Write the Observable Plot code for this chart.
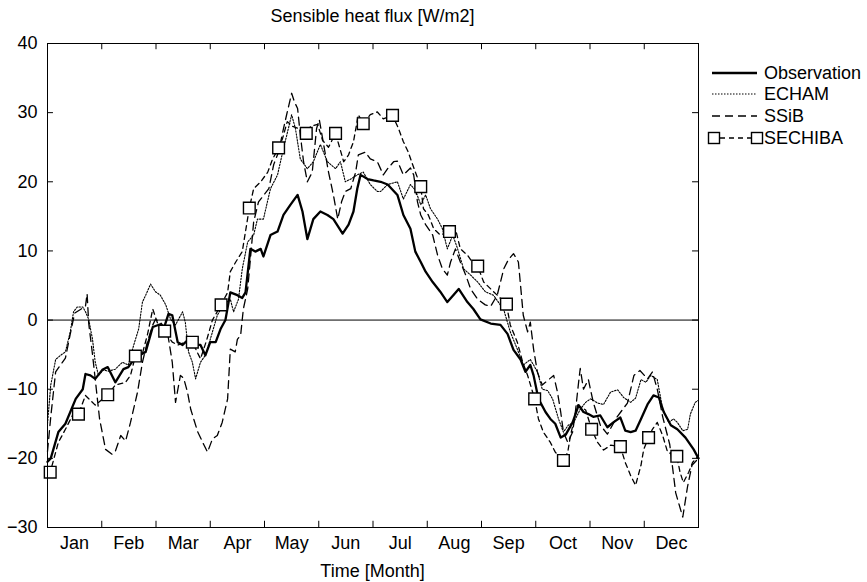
<!DOCTYPE html>
<html>
<head>
<meta charset="utf-8">
<script src="https://cdn.jsdelivr.net/npm/d3@7"></script>
<script src="https://cdn.jsdelivr.net/npm/@observablehq/plot@0.6"></script>
<style>
  html, body { margin: 0; padding: 0; background: #fff; }
  #chart svg { display: block; }
</style>
</head>
<body>
<div id="chart"></div>
<script>
const titleText = "Sensible heat flux [W/m2]";
const xLabel = "Time [Month]";
const monthNames = ["Jan","Feb","Mar","Apr","May","Jun","Jul","Aug","Sep","Oct","Nov","Dec"];
const yTicks = [-30, -20, -10, 0, 10, 20, 30, 40];
const seriesNames = ["Observation", "ECHAM", "SSiB", "SECHIBA"];

// [time in months since 1 Jan, W/m2]
const observation = [
 [0,-20.5],[0.06,-20],[0.2,-16.2],[0.33,-15],[0.52,-11.4],[0.65,-10],[0.7,-7.8],[0.79,-8],[0.88,-8.5],
 [1.01,-7.2],[1.11,-6.8],[1.25,-9],[1.4,-7.1],[1.49,-6.8],[1.62,-5.4],[1.81,-4.6],[1.94,-1],[2.08,-0.6],
 [2.14,-1.3],[2.23,0.9],[2.3,0.7],[2.4,-3.2],[2.49,-3.6],[2.6,-2.8],[2.69,-3.6],[2.82,-3.6],[2.91,-5.1],
 [3.0,-3.2],[3.1,-3.2],[3.19,-1.3],[3.28,0],[3.37,4],[3.5,3.6],[3.59,3.2],[3.65,4],[3.74,10.3],[3.83,9.9],
 [3.93,10.3],[3.98,9.2],[4.11,12.3],[4.24,12.8],[4.35,15.2],[4.48,16.7],[4.61,18.1],[4.7,15.7],[4.79,11.7],
 [4.9,14.6],[5.03,15.7],[5.16,15.2],[5.27,14.6],[5.44,12.5],[5.55,13.8],[5.64,15.7],[5.71,19],[5.77,21],
 [5.9,20.4],[6.01,20.2],[6.14,20],[6.27,19.6],[6.45,18.1],[6.56,15.2],[6.69,13.2],[6.78,9.9],[6.88,8.4],
 [6.97,7],[7.1,5.5],[7.24,4.1],[7.37,2.6],[7.48,3.6],[7.58,4.5],[7.74,2.6],[7.85,1.6],[7.98,0.1],
 [8.17,-0.5],[8.35,-0.7],[8.48,-2],[8.59,-4.3],[8.72,-5.7],[8.81,-7.5],[8.9,-6.5],[8.96,-8],[9.05,-11.4],
 [9.18,-13.3],[9.27,-14.3],[9.36,-15],[9.46,-17],[9.55,-16.6],[9.68,-14.8],[9.79,-12.3],[9.88,-13.3],
 [9.97,-13.6],[10.06,-14],[10.19,-13.8],[10.32,-15.5],[10.43,-14.8],[10.56,-14.1],[10.65,-16],[10.75,-16.2],
 [10.84,-16],[10.94,-14.3],[11.06,-12.2],[11.17,-10.9],[11.27,-11.2],[11.36,-13.3],[11.49,-15.2],
 [11.61,-15.8],[11.76,-17],[11.91,-18.7],[12,-20]
];

const echam = [
 [0,-15],[0.06,-9.4],[0.15,-5.7],[0.24,-5.1],[0.33,-4.6],[0.42,-1.7],[0.48,1.2],[0.55,1.9],[0.65,1.9],
 [0.7,1.2],[0.76,0.1],[0.83,-2.8],[0.88,-6.1],[0.94,-8],[1.03,-7.2],[1.12,-7.4],[1.25,-7.1],[1.38,-6.1],
 [1.49,-6.5],[1.59,-3.6],[1.68,-1.3],[1.75,2.6],[1.81,3.6],[1.9,5.2],[1.99,4.1],[2.08,3.6],[2.18,2.2],
 [2.27,0.1],[2.36,-0.7],[2.49,1.2],[2.54,-0.3],[2.6,-4.6],[2.67,-6.1],[2.73,-8.5],[2.82,-6.1],[2.91,-5.1],
 [3.0,-2.8],[3.13,0.7],[3.24,2.2],[3.37,3],[3.43,1.2],[3.52,3],[3.59,7.4],[3.69,11.3],[3.8,12.3],
 [3.87,14.6],[3.98,14.6],[4.11,19],[4.24,21],[4.35,24.8],[4.44,27.7],[4.5,29.7],[4.57,27.7],[4.66,23.3],
 [4.79,21.9],[4.9,22.9],[5.03,25.4],[5.16,22.9],[5.31,21.9],[5.4,22.9],[5.49,20],[5.59,20.4],[5.71,21],
 [5.82,21.4],[5.95,19.6],[6.08,18.6],[6.14,18.6],[6.27,19.6],[6.45,20],[6.56,17.5],[6.69,19.6],[6.78,18.8],
 [6.88,16.7],[6.97,18.1],[7.06,16.1],[7.19,14.6],[7.28,13.2],[7.37,10.3],[7.47,12.3],[7.56,10.3],
 [7.67,7.4],[7.8,6.5],[7.93,5.5],[8.07,4.1],[8.22,3.6],[8.41,1.5],[8.53,-1.7],[8.66,-4.2],[8.77,-6.5],
 [8.9,-5.7],[8.96,-6.5],[9.03,-7.5],[9.12,-10],[9.22,-10.2],[9.31,-11.4],[9.42,-14.3],[9.51,-16.2],
 [9.6,-15.2],[9.7,-14.8],[9.82,-12.9],[9.92,-11.9],[10.01,-11.4],[10.14,-12],[10.25,-12.2],[10.38,-10.4],
 [10.51,-10.1],[10.62,-11.2],[10.75,-11.9],[10.84,-11.3],[10.94,-8.6],[11.03,-9],[11.12,-8],[11.24,-8.6],
 [11.34,-12.9],[11.45,-14.8],[11.54,-14.3],[11.61,-14.8],[11.71,-16],[11.8,-15.8],[11.85,-13.6],
 [11.94,-11.9],[12,-11.6]
];

const ssib = [
 [0,-19],[0.06,-14],[0.15,-7.5],[0.24,-6.5],[0.33,-5.5],[0.42,-2],[0.5,1],[0.6,1.5],[0.7,2],[0.73,3.8],
 [0.76,-0.5],[0.83,-5],[0.9,-10],[0.96,-14.3],[1.07,-18.7],[1.19,-19.4],[1.25,-19],[1.35,-16.7],
 [1.44,-17.5],[1.53,-14.8],[1.66,-10.4],[1.75,-6.1],[1.84,-3.2],[1.94,-0.7],[1.99,0.1],[2.08,-0.3],
 [2.21,-1.7],[2.3,-6.1],[2.36,-11.9],[2.45,-8],[2.51,-8.4],[2.58,-10.4],[2.64,-12.9],[2.77,-16.2],
 [2.88,-18],[2.95,-19.1],[3.04,-17.2],[3.13,-16.7],[3.22,-14.8],[3.32,-11.4],[3.37,-4.2],[3.46,-4.6],
 [3.5,-2.8],[3.56,-2.2],[3.61,1.6],[3.69,4.5],[3.74,8.8],[3.8,14.2],[3.89,17.1],[4.08,19],[4.17,22.5],
 [4.26,24.3],[4.35,27.7],[4.42,30.1],[4.5,32.8],[4.55,31.6],[4.61,30.6],[4.66,26.8],[4.72,22.9],[4.79,20],
 [4.88,21.4],[4.96,27.7],[5.01,29],[5.09,25.4],[5.18,21.4],[5.27,18.1],[5.35,14.6],[5.42,17.1],[5.49,18.6],
 [5.59,19],[5.68,21.4],[5.73,23.9],[5.86,24.3],[5.95,23.3],[6.08,22.9],[6.19,21],[6.27,21.9],[6.38,22.9],
 [6.45,23],[6.56,21],[6.69,22],[6.75,21],[6.82,17.1],[6.88,15.2],[6.97,13.8],[7.1,12.3],[7.19,9.4],
 [7.28,7.4],[7.37,6.5],[7.43,8.4],[7.52,10.3],[7.61,8.4],[7.71,6.5],[7.8,4.5],[7.93,3],[8.07,2.2],[8.17,2],
 [8.29,3.6],[8.41,7.4],[8.5,8.8],[8.59,9.6],[8.68,8.4],[8.72,5],[8.77,0.7],[8.85,-1.7],[8.9,-0.3],
 [8.96,-4.2],[9.03,-7.5],[9.12,-9.4],[9.24,-8.6],[9.33,-8],[9.4,-10.4],[9.46,-13.3],[9.51,-16.2],
 [9.59,-17.7],[9.68,-16.2],[9.73,-13.3],[9.79,-9],[9.82,-7],[9.88,-10],[9.97,-8.6],[10.06,-11.9],
 [10.19,-15.2],[10.32,-16.5],[10.5,-14],[10.69,-12],[10.81,-8],[10.92,-7.3],[11.06,-8.5],[11.15,-7.5],
 [11.24,-10],[11.34,-14],[11.47,-18],[11.58,-25],[11.71,-28.5],[11.8,-24],[11.88,-21],[12,-20]
];

const sechiba = [
 [0,-22],[0.05,-22],[0.2,-17.7],[0.33,-15.8],[0.46,-13.8],[0.57,-13.6],[0.7,-10.9],[0.88,-12.3],[1.11,-10.8],
 [1.25,-9.4],[1.44,-9],[1.53,-8],[1.62,-5.2],[1.75,-4.8],[1.84,-2.2],[1.94,1.6],[2.03,-0.5],[2.16,-1.6],
 [2.3,-3.2],[2.41,-3.6],[2.54,-3.2],[2.67,-3.2],[2.82,-5.6],[2.93,-3],[3.04,0],[3.2,2.2],[3.32,4],[3.37,7],
 [3.47,8.4],[3.59,9.9],[3.72,16.2],[3.8,19],[3.93,20],[4.06,21.4],[4.15,23.3],[4.26,24.9],[4.33,26.2],
 [4.42,28.7],[4.52,28],[4.63,27.7],[4.77,27],[4.85,28],[4.98,28.3],[5.07,26],[5.18,25],[5.31,27],
 [5.46,22.9],[5.55,23.9],[5.64,25.8],[5.73,29.7],[5.82,28.4],[5.95,29.7],[6.08,30.1],[6.19,29.1],
 [6.36,29.6],[6.47,27.7],[6.56,25.8],[6.65,24.3],[6.73,22.5],[6.88,19.3],[6.93,16.1],[7.02,15.2],
 [7.12,13.2],[7.24,12.3],[7.41,12.8],[7.52,13.2],[7.61,10.3],[7.74,9.4],[7.83,8.4],[7.93,7.8],[8.04,5.5],
 [8.17,4.5],[8.29,3.6],[8.46,2.3],[8.53,-0.7],[8.66,-3.2],[8.76,-6.1],[8.85,-8],[8.98,-11.4],[9.05,-14.3],
 [9.14,-16.2],[9.27,-17.7],[9.36,-19.1],[9.51,-20.3],[9.59,-19.1],[9.64,-16.7],[9.77,-12.3],[9.92,-13],
 [10.03,-15.8],[10.14,-17.7],[10.25,-18.8],[10.38,-18.1],[10.56,-18.3],[10.65,-20.6],[10.75,-22.5],
 [10.84,-23.9],[10.94,-21],[10.99,-18.7],[11.08,-17],[11.15,-15.8],[11.24,-14.8],[11.34,-16.7],
 [11.43,-19.1],[11.6,-19.7],[11.66,-22],[11.72,-23.5],[11.82,-22],[11.89,-20.6],[12,-19.6]
];

const sechibaMarkers = [
 [0.05,-22],[0.57,-13.6],[1.11,-10.8],[1.62,-5.2],[2.16,-1.6],[2.67,-3.2],[3.2,2.2],[3.72,16.2],
 [4.26,24.9],[4.77,27],[5.31,27],[5.82,28.4],[6.36,29.6],[6.88,19.3],[7.41,12.8],[7.93,7.8],[8.46,2.3],
 [8.98,-11.4],[9.51,-20.3],[10.03,-15.8],[10.56,-18.3],[11.08,-17],[11.6,-19.7]
];

const monthStarts = d3.range(1, 12);
const monthMids = d3.range(0, 12).map(i => i + 0.5);
const FONT = "'Liberation Sans', Arial, Helvetica, sans-serif";

const xTickLen = 0.11;   // months (~6px)
const yTickLen = 0.9;    // W/m2 (~6px)

const chart = Plot.plot({
  width: 867,
  height: 582,
  marginLeft: 47,
  marginRight: 169,
  marginTop: 43,
  marginBottom: 55,
  style: { fontFamily: FONT, fontSize: "18px", background: "#fff", color: "#000" },
  x: { domain: [0, 12] },
  y: { domain: [-30, 40] },
  marks: [
    Plot.axisY(yTicks, { tickSize: 0, tickPadding: 10, fontSize: 18, label: null }),
    Plot.axisX(monthMids, { tickSize: 0, tickPadding: 9, fontSize: 18, label: null,
      tickFormat: d => monthNames[Math.floor(d)] }),
    // inward ticks
    Plot.ruleX(monthStarts, { y1: -30, y2: -30 + yTickLen, stroke: "#000", strokeWidth: 1 }),
    Plot.ruleX(monthStarts, { y1: 40, y2: 40 - yTickLen, stroke: "#000", strokeWidth: 1 }),
    Plot.ruleY(yTicks, { x1: 0, x2: xTickLen, stroke: "#000", strokeWidth: 1 }),
    Plot.ruleY(yTicks, { x1: 12, x2: 12 - xTickLen, stroke: "#000", strokeWidth: 1 }),
    Plot.ruleY([0], { stroke: "#000", strokeWidth: 1 }),
    Plot.line(ssib, { x: d => d[0], y: d => d[1], stroke: "#000", strokeWidth: 1.3, strokeDasharray: "8,5" }),
    Plot.line(echam, { x: d => d[0], y: d => d[1], stroke: "#000", strokeWidth: 1.1, strokeDasharray: "1.5,1.5" }),
    Plot.line(sechiba, { x: d => d[0], y: d => d[1], stroke: "#000", strokeWidth: 1.3, strokeDasharray: "5,4" }),
    Plot.line(observation, { x: d => d[0], y: d => d[1], stroke: "#000", strokeWidth: 2.3 }),
    Plot.dot(sechibaMarkers, { x: d => d[0], y: d => d[1], symbol: "square", r: 6.6, fill: "#fff", stroke: "#000", strokeWidth: 1.4 }),
    Plot.frame({ stroke: "#000", strokeWidth: 1 })
  ]
});

document.getElementById("chart").appendChild(chart);

// title, x label, legend
const svg = d3.select(chart);
svg.append("text").attr("x", 372.5).attr("y", 22).attr("text-anchor", "middle")
  .attr("font-family", FONT).attr("font-size", 18).text(titleText);
svg.append("text").attr("x", 372.5).attr("y", 577).attr("text-anchor", "middle")
  .attr("font-family", FONT).attr("font-size", 18).text(xLabel);

const legendY = [73, 94, 116, 138];
const styles = [
  { w: 2.3, dash: null },
  { w: 1.1, dash: "1.5,1.5" },
  { w: 1.3, dash: "8,5" },
  { w: 1.3, dash: "5,4" }
];
const lg = svg.append("g").attr("text-anchor", "start");
seriesNames.forEach((name, i) => {
  const y = legendY[i];
  const x1 = i === 3 ? 720 : 712, x2 = i === 3 ? 751 : 757;
  const l = lg.append("line").attr("x1", x1).attr("x2", x2).attr("y1", y).attr("y2", y)
    .attr("stroke", "#000").attr("stroke-width", styles[i].w);
  if (styles[i].dash) l.attr("stroke-dasharray", styles[i].dash);
  if (i === 3) {
    [714, 757].forEach(cx => lg.append("rect").attr("x", cx - 5.5).attr("y", y - 5.5)
      .attr("width", 11).attr("height", 11).attr("fill", "#fff").attr("stroke", "#000").attr("stroke-width", 1.4));
  }
  lg.append("text").attr("x", 764).attr("y", y).attr("dy", "0.35em").attr("text-anchor", "start")
    .attr("font-family", FONT).attr("font-size", 18).text(name);
});
</script>
</body>
</html>
